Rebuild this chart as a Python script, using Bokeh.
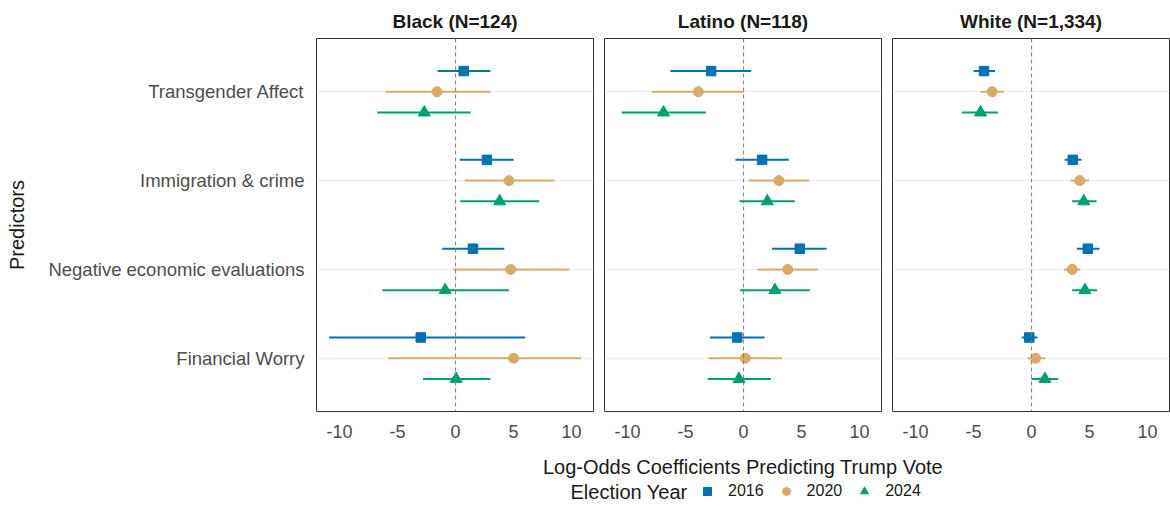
from bokeh.plotting import figure
from bokeh.layouts import column, row
from bokeh.models import (Range1d, FixedTicker, Span, Grid, Legend, LegendItem, Label,
                          ColumnDataSource, CDSView, GroupFilter)
from bokeh.transform import dodge
from bokeh.embed import file_html
from bokeh.resources import INLINE

FONT = "Liberation Sans"

# ---- data -------------------------------------------------------------
predictors = ["Transgender Affect", "Immigration & crime",
              "Negative economic evaluations", "Financial Worry"]
years = ["2016", "2020", "2024"]
groups = ["Black (N=124)", "Latino (N=118)", "White (N=1,334)"]

# rows: predictor-major, year-minor (2016, 2020, 2024)
black_est = [0.7, -1.6, -2.7,   2.7, 4.6, 3.8,   1.5, 4.75, -0.9,   -3.0, 5.0, 0.05]
black_lo = [-1.55, -6.0, -6.75, 0.35, 0.8, 0.4,  -1.15, -0.2, -6.3,  -10.9, -5.8, -2.8]
black_hi = [3.0, 3.0, 1.3,      5.0, 8.5, 7.2,   4.2, 9.8, 4.6,     6.0, 10.8, 3.0]

latino_est = [-2.8, -3.9, -6.9,  1.6, 3.05, 2.05,  4.85, 3.8, 2.7,   -0.55, 0.15, -0.4]
latino_lo = [-6.3, -7.9, -10.5,  -0.7, 0.45, -0.35, 2.45, 1.2, -0.3,  -2.9, -3.0, -3.1]
latino_hi = [0.65, 0.0, -3.25,   3.9, 5.65, 4.4,   7.15, 6.4, 5.7,   1.8, 3.3, 2.35]

white_est = [-4.1, -3.4, -4.4,   3.55, 4.15, 4.5,  4.85, 3.5, 4.6,   -0.2, 0.35, 1.15]
white_lo = [-5.0, -4.4, -6.0,    2.85, 3.35, 3.5,  3.9, 2.8, 3.5,    -0.85, -0.35, 0.0]
white_hi = [-3.15, -2.4, -2.9,   4.3, 4.95, 5.6,   5.85, 4.2, 5.65,  0.5, 1.2, 2.3]

x_ticks = [-10, -5, 0, 5, 10]
x_title = "Log-Odds Coefficients Predicting Trump Vote"
legend_title = "Election Year"

# ---- styling ------------------------------------------------------------
year_colors = ["#0072B2", "#D9AA68", "#009E73"]
year_markers = ["square", "circle", "triangle"]
year_sizes = [9.5, 10, 12]
dodge_width = 0.7
year_offsets = [dodge_width / 3, 0.0, -dodge_width / 3]

# predictor positions on the y scale (top to bottom)
pred_pos = {name: len(predictors) - i for i, name in enumerate(predictors)}

all_lo = black_lo + latino_lo + white_lo
all_hi = black_hi + latino_hi + white_hi
span = max(all_hi) - min(all_lo)
x_start = min(all_lo) - 0.05 * span
x_end = max(all_hi) + 0.05 * span

FRAME_W = 277
TOP = 38
BOTTOM = 39
HEIGHT = 450


def make_source(est, lo, hi):
    pred_col, year_col = [], []
    for name in predictors:
        for yr in years:
            pred_col.append(name)
            year_col.append(yr)
    return ColumnDataSource(dict(
        predictor=pred_col, year=year_col,
        pos=[pred_pos[n] for n in pred_col],
        est=est, lo=lo, hi=hi,
    ))


def panel(title, est, lo, hi, left, right, first=False):
    p = figure(width=left + FRAME_W + right, height=HEIGHT,
               x_range=Range1d(x_start, x_end), y_range=Range1d(0.4, 4.6),
               output_backend="svg", toolbar_location=None,
               min_border_left=left, min_border_right=right,
               min_border_top=TOP, min_border_bottom=BOTTOM,
               y_axis_location="left" if first else None)
    p.background_fill_color = "white"
    p.border_fill_color = "white"
    p.outline_line_color = "#333333"
    p.outline_line_width = 1
    p.outline_line_alpha = 1.0

    p.title.text = title
    p.title.align = "center"
    p.title.text_font = FONT
    p.title.text_font_size = "19px"
    p.title.text_font_style = "bold"
    p.title.text_color = "#1A1A1A"
    p.title.standoff = 14

    p.xgrid.visible = False
    p.ygrid.visible = False
    p.add_layout(Grid(dimension=1, ticker=FixedTicker(ticks=list(pred_pos.values())),
                      grid_line_color="#EBEBEB", grid_line_width=1.2))

    xa = p.xaxis[0]
    xa.ticker = FixedTicker(ticks=x_ticks)
    xa.major_label_overrides = {t: str(t) for t in x_ticks}
    xa.major_tick_line_color = None
    xa.minor_tick_line_color = None
    xa.axis_line_color = None
    xa.major_label_text_font = FONT
    xa.major_label_text_font_size = "18px"
    xa.major_label_text_color = "#4D4D4D"
    xa.major_label_standoff = 7

    if first:
        ya = p.yaxis[0]
        ya.ticker = FixedTicker(ticks=list(pred_pos.values()))
        ya.major_label_overrides = {v: k for k, v in pred_pos.items()}
        ya.major_tick_line_color = None
        ya.minor_tick_line_color = None
        ya.axis_line_color = None
        ya.major_label_text_font = FONT
        ya.major_label_text_font_size = "18.5px"
        ya.major_label_text_color = "#4D4D4D"
        ya.major_label_standoff = 6
        ya.axis_label = "Predictors"
        ya.axis_label_text_font = FONT
        ya.axis_label_text_font_size = "20px"
        ya.axis_label_text_font_style = "normal"
        ya.axis_label_text_color = "#1A1A1A"
        ya.axis_label_standoff = 17

    p.add_layout(Span(location=0, dimension="height", line_color="#7F7F7F",
                      line_width=1, line_dash="4 3"))

    src = make_source(est, lo, hi)
    for yr, col, mk, sz, off in zip(years, year_colors, year_markers, year_sizes, year_offsets):
        view = CDSView(filter=GroupFilter(column_name="year", group=yr))
        ypos = dodge("pos", off)
        p.segment(x0="lo", x1="hi", y0=ypos, y1=ypos, source=src, view=view,
                  line_color=col, line_width=2)
        p.scatter(x="est", y=ypos, source=src, view=view, marker=mk, size=sz,
                  fill_color=col, line_color=col)
    return p


p_black = panel(groups[0], black_est, black_lo, black_hi, left=316, right=5, first=True)
p_latino = panel(groups[1], latino_est, latino_lo, latino_hi, left=6, right=5)
p_white = panel(groups[2], white_est, white_lo, white_hi, left=6, right=1)

# ---- shared x title and legend strip ------------------------------------
STRIP_H = 506 - HEIGHT
strip = figure(width=1170, height=STRIP_H, x_range=Range1d(0, 1), y_range=Range1d(0, 1),
               output_backend="svg", toolbar_location=None, min_border=0,
               x_axis_location=None, y_axis_location=None)
strip.outline_line_color = None
strip.grid.visible = False
strip.background_fill_color = "white"
strip.border_fill_color = "white"

# legend keys: renderers holding a single off-canvas placeholder row
items = []
for yr, col, mk in zip(years, year_colors, year_markers):
    r = strip.scatter(x=[float("nan")], y=[float("nan")], marker=mk,
                      fill_color=col, line_color=col)
    items.append(LegendItem(label=yr, renderers=[r]))

legend = Legend(items=items, orientation="horizontal", location=(697, 5),
                glyph_width=20, glyph_height=20, label_standoff=11, spacing=12,
                padding=0, margin=0, border_line_color=None,
                background_fill_alpha=0,
                label_text_font=FONT, label_text_font_size="16px",
                label_text_color="#1A1A1A")
strip.add_layout(legend)
strip.add_layout(Label(x=570, y=15, x_units="screen", y_units="screen",
                       text=legend_title, text_baseline="middle",
                       text_font=FONT, text_font_size="20px", text_color="#1A1A1A"))
# x title centred under the middle panel's frame
strip.add_layout(Label(x=p_black.width + 6 + FRAME_W / 2, y=STRIP_H - 16,
                       x_units="screen", y_units="screen",
                       text=x_title, text_align="center", text_baseline="middle",
                       text_font=FONT, text_font_size="20px", text_color="#1A1A1A"))

layout = column(row(p_black, p_latino, p_white, spacing=0), strip, spacing=0)

open("out.html", "w").write(file_html(layout, INLINE))
